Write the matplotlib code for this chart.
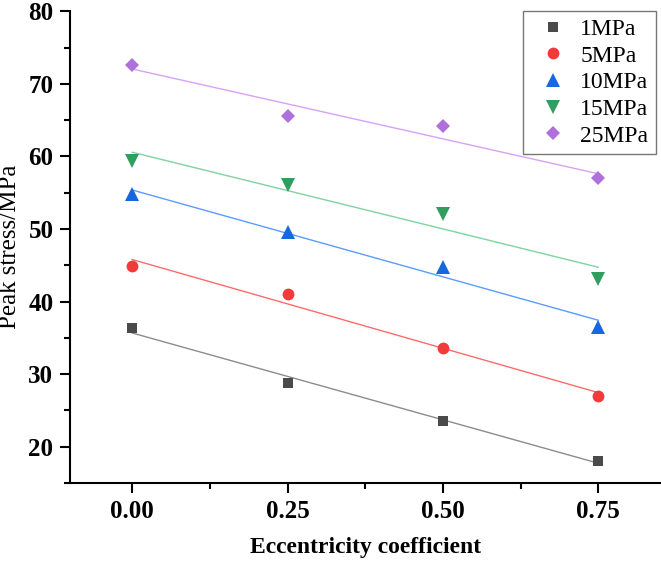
import numpy as np
import matplotlib
matplotlib.use("Agg")
import matplotlib.pyplot as plt
from matplotlib.ticker import MultipleLocator

x = [0.0, 0.25, 0.50, 0.75]
labels = ["1MPa", "5MPa", "10MPa", "15MPa", "25MPa"]
s1 = [36.3, 28.8, 23.6, 18.1]
s5 = [44.9, 41.0, 33.6, 27.0]
s10 = [54.8, 49.6, 44.7, 36.5]
s15 = [59.4, 56.0, 52.1, 43.1]
s25 = [72.6, 65.5, 64.2, 57.0]
series = [s1, s5, s10, s15, s25]

markers = ["s", "o", "^", "v", "D"]
msizes = [7.5, 8.5, 9.5, 9.5, 7.5]
mcolors = ["#4a4a4a", "#f23a3a", "#1668de", "#2f9e5f", "#b070dc"]
lcolors = ["#8c8c8c", "#ff6b6b", "#5b9cff", "#7fd4a0", "#d8a2f4"]

plt.rcParams["font.family"] = ["Liberation Serif", "DejaVu Serif"]
fig = plt.figure(figsize=(6.61, 5.61), dpi=100)
ax = fig.add_axes([0.106, 0.139, 0.893, 0.841])

xa = np.array(x)
for ys, lab, m, ms, mc, lc in zip(series, labels, markers, msizes, mcolors, lcolors):
    k, b = np.polyfit(xa, np.array(ys), 1)
    ax.plot([xa[0], xa[-1]], [k * xa[0] + b, k * xa[-1] + b], color=lc, lw=1.0, zorder=2)
    ax.plot(x, ys, linestyle="none", marker=m, markersize=ms, color=mc,
            markeredgewidth=0, label=lab, zorder=3)

ax.set_xlim(-0.1, 0.85)
ax.set_ylim(15, 80)
ax.xaxis.set_minor_locator(MultipleLocator(0.125))
ax.yaxis.set_minor_locator(MultipleLocator(5))
ax.set_xticks([0.0, 0.25, 0.5, 0.75])
ax.set_xticklabels(["0.00", "0.25", "0.50", "0.75"])
ax.set_yticks([20, 30, 40, 50, 60, 70, 80])

for sp in ["top", "right"]:
    ax.spines[sp].set_visible(False)
for sp in ["left", "bottom"]:
    ax.spines[sp].set_linewidth(1.5)
ax.tick_params(which="major", direction="out", length=7, width=1.5, labelsize=18, pad=5)
ax.tick_params(which="minor", direction="out", length=4, width=1.5)
for t in ax.get_xticklabels() + ax.get_yticklabels():
    t.set_fontweight("bold")

ax.set_xlabel("Eccentricity coefficient", fontsize=17, fontweight="bold", labelpad=10)
ax.set_ylabel("Peak stress/MPa", fontsize=18, fontweight="normal", labelpad=5)

leg = ax.legend(loc="upper right", bbox_to_anchor=(1.0, 1.01), fontsize=17,
                frameon=True, fancybox=False, handletextpad=0.15, borderpad=0.3,
                labelspacing=0.22, handlelength=2.0, borderaxespad=0.2)
leg.get_frame().set_edgecolor("#555555")
leg.get_frame().set_linewidth(1.0)

fig.savefig("out.png", dpi=100)
